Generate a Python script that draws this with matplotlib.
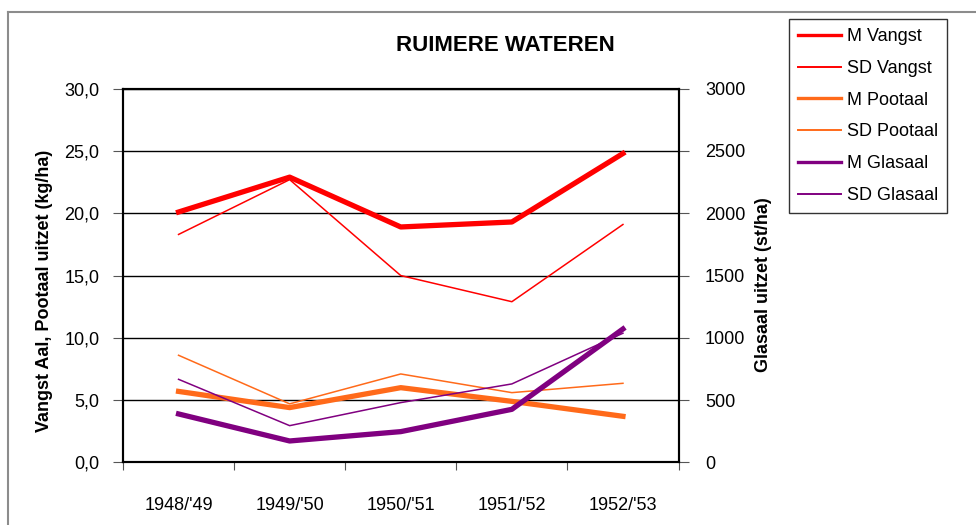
import matplotlib
matplotlib.use("Agg")
import matplotlib.pyplot as plt
from matplotlib.lines import Line2D

plt.rcParams['font.family'] = ['Liberation Sans', 'DejaVu Sans']

# gegevens
seizoenen = ["1948/'49", "1949/'50", "1950/'51", "1951/'52", "1952/'53"]
m_vangst = [20.1, 22.9, 18.9, 19.3, 24.8]
sd_vangst = [18.3, 22.7, 15.0, 12.9, 19.1]
m_pootaal = [5.7, 4.4, 6.0, 4.9, 3.7]
sd_pootaal = [8.6, 4.7, 7.1, 5.6, 6.35]
m_glasaal = [389, 172, 247, 426, 1071]
sd_glasaal = [667, 295, 480, 630, 1037]

rood = '#ff0000'
oranje = '#ff6a1a'
paars = '#800080'

fig = plt.figure(figsize=(9.76, 5.25), dpi=100)
ax = fig.add_axes([123/976, 1 - 462.4/525, 555.5/976, 373.7/525])
ax2 = ax.twinx()

x = list(range(len(seizoenen)))
l1, = ax.plot(x, m_vangst, color=rood, lw=3.8, zorder=4, label='M Vangst')
l2, = ax.plot(x, sd_vangst, color=rood, lw=1.1, zorder=3, label='SD Vangst')
l3, = ax.plot(x, m_pootaal, color=oranje, lw=3.8, zorder=4, label='M Pootaal')
l4, = ax.plot(x, sd_pootaal, color=oranje, lw=1.1, zorder=3, label='SD Pootaal')
l6, = ax2.plot(x, sd_glasaal, color=paars, lw=1.1, zorder=3, label='SD Glasaal')
l5, = ax2.plot(x, m_glasaal, color=paars, lw=3.8, zorder=4, label='M Glasaal')

ax.set_xlim(-0.5, 4.5)
ax.set_ylim(0, 30)
ax2.set_ylim(0, 3000)

ax.set_yticks([0, 5, 10, 15, 20, 25, 30])
ax.set_yticklabels(['0,0', '5,0', '10,0', '15,0', '20,0', '25,0', '30,0'])
ax2.set_yticks([0, 500, 1000, 1500, 2000, 2500, 3000])

ax.set_xticks([-0.5, 0.5, 1.5, 2.5, 3.5, 4.5])
ax.set_xticklabels([])
ax.set_xticks(x, minor=True)
ax.set_xticklabels(seizoenen, minor=True)
ax.tick_params(axis='x', which='major', length=6, color='#555555')
ax.tick_params(axis='x', which='minor', length=0, pad=25, labelsize=13)
ax.tick_params(axis='y', length=7, color='#555555', pad=10, labelsize=13)
ax2.tick_params(axis='y', length=7, color='#555555', pad=12, labelsize=13)

ax.grid(axis='y', color='black', lw=1)
ax.set_axisbelow(True)
for sp in list(ax.spines.values()) + list(ax2.spines.values()):
    sp.set_color('black')
    sp.set_linewidth(1.5)

fig.text(505/976, 1 - 45.5/525, 'RUIMERE WATEREN', ha='center', va='center',
         fontsize=16, fontweight='bold')
fig.text(45/976, 1 - 291/525, 'Vangst Aal, Pootaal uitzet (kg/ha)', rotation=90,
         ha='center', va='center', fontsize=13, fontweight='bold')
fig.text(764/976, 1 - 285/525, 'Glasaal uitzet (st/ha)', rotation=90,
         ha='center', va='center', fontsize=13, fontweight='bold')

leg = fig.legend([l1, l2, l3, l4, l5, l6],
                 ['M Vangst', 'SD Vangst', 'M Pootaal', 'SD Pootaal', 'M Glasaal', 'SD Glasaal'],
                 loc='upper left', bbox_to_anchor=(789/976, 1 - 19/525),
                 fontsize=13, frameon=True, fancybox=False, handlelength=2.4,
                 handletextpad=0.3, labelspacing=0.82, borderpad=0.5,
                 borderaxespad=0)
leg.get_frame().set_edgecolor('black')
leg.get_frame().set_linewidth(1.0)
for h, w in zip(leg.get_lines(), [2.4, 1.4, 2.4, 1.4, 2.4, 1.4]):
    h.set_linewidth(w)

# grijze rand rond de grafiek
fig.add_artist(Line2D([7.5/976, 7.5/976], [0, 1 - 12.3/525], color='#8c8c8c', lw=1.5))
fig.add_artist(Line2D([7.5/976, 1], [1 - 12.3/525, 1 - 12.3/525], color='#8c8c8c', lw=1.5))

fig.savefig('out.png', dpi=100)
